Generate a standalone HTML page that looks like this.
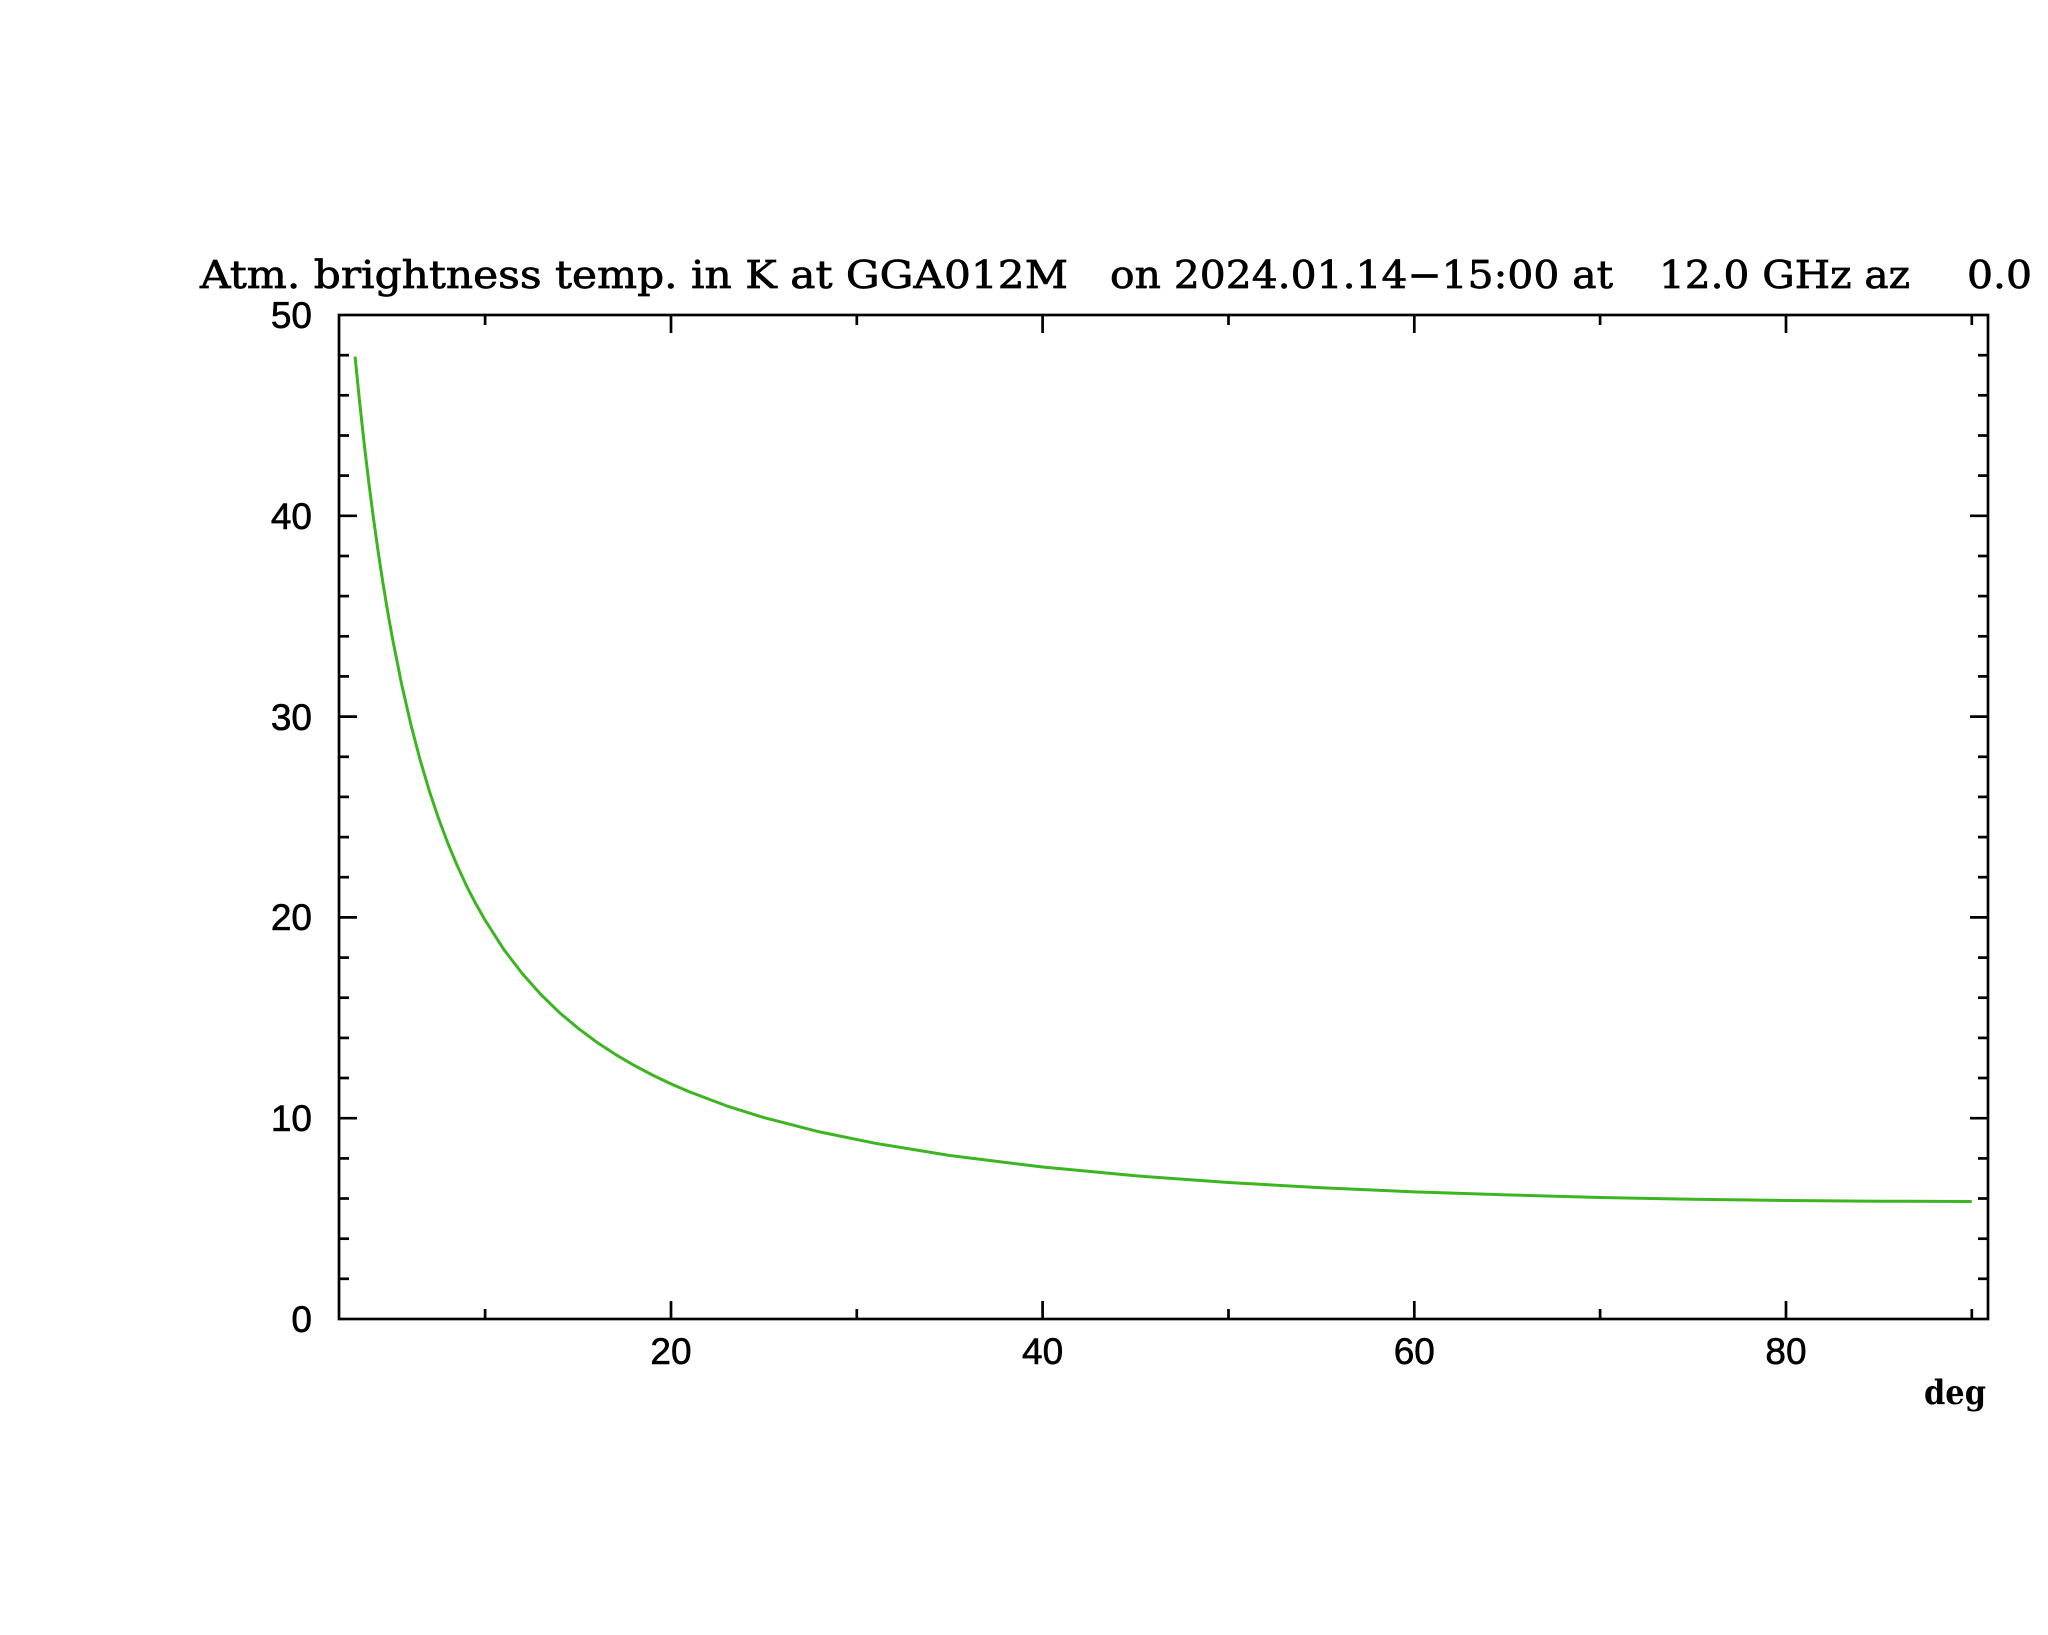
<!DOCTYPE html>
<html>
<head>
<meta charset="utf-8">
<style>
html,body{margin:0;padding:0;background:#fff;}
svg{display:block;}
</style>
</head>
<body>
<svg width="2048" height="1635" viewBox="0 0 2048 1635" xmlns="http://www.w3.org/2000/svg">
<rect x="0" y="0" width="2048" height="1635" fill="#fff"/>
<g font-family="'DejaVu Serif','Liberation Serif',serif" font-size="38" fill="#000" stroke="#000" stroke-width="0.7">
<text x="200" y="288" textLength="868" lengthAdjust="spacingAndGlyphs">Atm. brightness temp. in K at GGA012M</text>
<text x="1110" y="288" textLength="503" lengthAdjust="spacingAndGlyphs">on 2024.01.14−15:00 at</text>
<text x="1659" y="288" textLength="251" lengthAdjust="spacingAndGlyphs">12.0 GHz az</text>
<text x="1967" y="288" textLength="65" lengthAdjust="spacingAndGlyphs">0.0</text>
</g>
<polyline fill="none" stroke="#3cb521" stroke-width="3" stroke-linejoin="round" points="355.05,356.6 359.69,402.7 364.34,445.1 368.99,483.9 373.63,519.6 378.28,552.5 382.92,582.9 387.57,611.0 392.22,637.1 401.51,683.7 410.8,724.2 420.09,759.8 429.38,791.1 438.67,818.8 447.96,843.5 457.26,865.8 466.55,885.9 475.84,903.9 485.13,920.2 503.71,949.3 522.3,973.6 540.88,994.5 559.46,1012.6 578.05,1028.2 596.63,1042.1 615.21,1054.3 633.79,1065.2 652.38,1075.0 670.96,1083.9 689.54,1091.9 726.71,1105.9 763.88,1117.6 819.62,1131.9 875.37,1143.3 949.71,1155.5 1042.62,1167.0 1135.54,1175.8 1228.45,1182.5 1321.37,1187.7 1414.28,1191.9 1506.7,1194.9 1600.11,1197.5 1693.0,1199.3 1785.94,1200.5 1878.9,1201.2 1971.77,1201.5"/>
<rect x="339" y="315" width="1649" height="1004" fill="none" stroke="#000" stroke-width="2.7"/>
<g stroke="#000" stroke-width="2.7">
<line x1="485.1" y1="1319" x2="485.1" y2="1309"/>
<line x1="671.0" y1="1319" x2="671.0" y2="1301"/>
<line x1="856.8" y1="1319" x2="856.8" y2="1309"/>
<line x1="1042.6" y1="1319" x2="1042.6" y2="1301"/>
<line x1="1228.5" y1="1319" x2="1228.5" y2="1309"/>
<line x1="1414.3" y1="1319" x2="1414.3" y2="1301"/>
<line x1="1600.1" y1="1319" x2="1600.1" y2="1309"/>
<line x1="1786.0" y1="1319" x2="1786.0" y2="1301"/>
<line x1="1971.8" y1="1319" x2="1971.8" y2="1309"/>
<line x1="485.1" y1="315" x2="485.1" y2="325"/>
<line x1="671.0" y1="315" x2="671.0" y2="333"/>
<line x1="856.8" y1="315" x2="856.8" y2="325"/>
<line x1="1042.6" y1="315" x2="1042.6" y2="333"/>
<line x1="1228.5" y1="315" x2="1228.5" y2="325"/>
<line x1="1414.3" y1="315" x2="1414.3" y2="333"/>
<line x1="1600.1" y1="315" x2="1600.1" y2="325"/>
<line x1="1786.0" y1="315" x2="1786.0" y2="333"/>
<line x1="1971.8" y1="315" x2="1971.8" y2="325"/>
<line x1="339" y1="1278.8" x2="349" y2="1278.8"/>
<line x1="339" y1="1238.7" x2="349" y2="1238.7"/>
<line x1="339" y1="1198.5" x2="349" y2="1198.5"/>
<line x1="339" y1="1158.4" x2="349" y2="1158.4"/>
<line x1="339" y1="1118.2" x2="357" y2="1118.2"/>
<line x1="339" y1="1078.0" x2="349" y2="1078.0"/>
<line x1="339" y1="1037.9" x2="349" y2="1037.9"/>
<line x1="339" y1="997.7" x2="349" y2="997.7"/>
<line x1="339" y1="957.6" x2="349" y2="957.6"/>
<line x1="339" y1="917.4" x2="357" y2="917.4"/>
<line x1="339" y1="877.2" x2="349" y2="877.2"/>
<line x1="339" y1="837.1" x2="349" y2="837.1"/>
<line x1="339" y1="796.9" x2="349" y2="796.9"/>
<line x1="339" y1="756.8" x2="349" y2="756.8"/>
<line x1="339" y1="716.6" x2="357" y2="716.6"/>
<line x1="339" y1="676.4" x2="349" y2="676.4"/>
<line x1="339" y1="636.3" x2="349" y2="636.3"/>
<line x1="339" y1="596.1" x2="349" y2="596.1"/>
<line x1="339" y1="556.0" x2="349" y2="556.0"/>
<line x1="339" y1="515.8" x2="357" y2="515.8"/>
<line x1="339" y1="475.6" x2="349" y2="475.6"/>
<line x1="339" y1="435.5" x2="349" y2="435.5"/>
<line x1="339" y1="395.3" x2="349" y2="395.3"/>
<line x1="339" y1="355.2" x2="349" y2="355.2"/>
<line x1="1988" y1="1278.8" x2="1978" y2="1278.8"/>
<line x1="1988" y1="1238.7" x2="1978" y2="1238.7"/>
<line x1="1988" y1="1198.5" x2="1978" y2="1198.5"/>
<line x1="1988" y1="1158.4" x2="1978" y2="1158.4"/>
<line x1="1988" y1="1118.2" x2="1970" y2="1118.2"/>
<line x1="1988" y1="1078.0" x2="1978" y2="1078.0"/>
<line x1="1988" y1="1037.9" x2="1978" y2="1037.9"/>
<line x1="1988" y1="997.7" x2="1978" y2="997.7"/>
<line x1="1988" y1="957.6" x2="1978" y2="957.6"/>
<line x1="1988" y1="917.4" x2="1970" y2="917.4"/>
<line x1="1988" y1="877.2" x2="1978" y2="877.2"/>
<line x1="1988" y1="837.1" x2="1978" y2="837.1"/>
<line x1="1988" y1="796.9" x2="1978" y2="796.9"/>
<line x1="1988" y1="756.8" x2="1978" y2="756.8"/>
<line x1="1988" y1="716.6" x2="1970" y2="716.6"/>
<line x1="1988" y1="676.4" x2="1978" y2="676.4"/>
<line x1="1988" y1="636.3" x2="1978" y2="636.3"/>
<line x1="1988" y1="596.1" x2="1978" y2="596.1"/>
<line x1="1988" y1="556.0" x2="1978" y2="556.0"/>
<line x1="1988" y1="515.8" x2="1970" y2="515.8"/>
<line x1="1988" y1="475.6" x2="1978" y2="475.6"/>
<line x1="1988" y1="435.5" x2="1978" y2="435.5"/>
<line x1="1988" y1="395.3" x2="1978" y2="395.3"/>
<line x1="1988" y1="355.2" x2="1978" y2="355.2"/>
</g>
<g font-family="'Liberation Sans',sans-serif" font-size="37" fill="#000" stroke="#000" stroke-width="0.6" text-anchor="end">
<text x="312" y="1332">0</text>
<text x="312" y="1131">10</text>
<text x="312" y="930">20</text>
<text x="312" y="730">30</text>
<text x="312" y="529">40</text>
<text x="312" y="328">50</text>
</g>
<g font-family="'Liberation Sans',sans-serif" font-size="37" fill="#000" stroke="#000" stroke-width="0.6" text-anchor="middle">
<text x="671" y="1364">20</text>
<text x="1042.6" y="1364">40</text>
<text x="1414.3" y="1364">60</text>
<text x="1786" y="1364">80</text>
</g>
<text x="1924" y="1404" textLength="62" lengthAdjust="spacingAndGlyphs" font-family="'DejaVu Serif','Liberation Serif',serif" font-size="34" font-weight="bold" fill="#000">deg</text>
</svg>
</body>
</html>
